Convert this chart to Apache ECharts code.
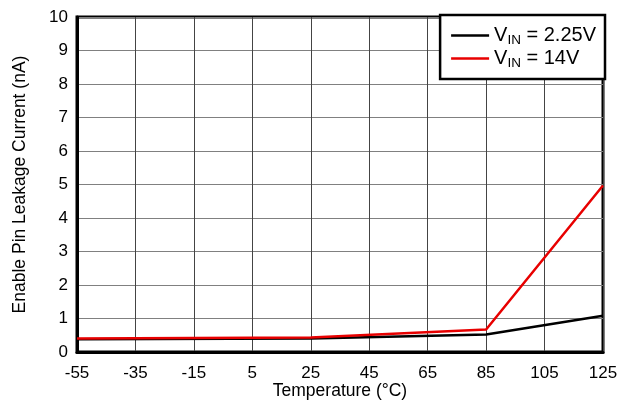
<!DOCTYPE html>
<html><head><meta charset="utf-8">
<script src="https://cdn.jsdelivr.net/npm/echarts@6/dist/echarts.min.js"></script>
<style>html,body{margin:0;padding:0;background:#fff}#c{width:631px;height:402px}</style>
</head><body><div id="c"></div>
<script>
var temps = [-55, -35, -15, 5, 25, 45, 65, 85, 105, 125];
var tempsBlack = [-55, 25, 85, 125];
var black225 = [0.38, 0.40, 0.52, 1.08];
var tempsRed = [-55, 25, 85, 125];
var red14 = [0.40, 0.43, 0.67, 4.97];
var xMin = -55, xMax = 125, xStep = 20;
var yTicks = [0,1,2,3,4,5,6,7,8,9,10];

function pairs(xs, ys){ return xs.map(function(x,i){ return [x - xMin, ys[i]]; }); }
var font = 'Liberation Sans, Arial, sans-serif';
var chart = echarts.init(document.getElementById('c'));
chart.setOption({
  animation: false,
  backgroundColor: '#fff',
  grid: {left: 77, right: 28, top: 17, bottom: 50, show: true, borderColor: '#000', borderWidth: 3, containLabel: false, outerBoundsMode: 'none'},
  legend: {
    right: 26, top: 15, orient: 'vertical', backgroundColor: '#fff', borderColor: '#000', borderWidth: 2.5,
    padding: [9, 9, 9, 11], itemGap: 0, itemWidth: 38, itemHeight: 20, icon: 'path://M0,0H38V2.5H0Z',
    textStyle: {fontFamily: font, fontSize: 20, color: '#000', lineHeight: 20,
      rich: {a: {fontFamily: font, fontSize: 20, color: '#000', lineHeight: 20}, b: {fontFamily: font, fontSize: 13.5, color: '#000', lineHeight: 20, padding: [9,0,0,0]}}},
    formatter: function(n){ return n === 'v1' ? '{a|V}{b|IN}{a| = 2.25V}' : '{a|V}{b|IN}{a| = 14V}'; },
    data: ['v1', 'v2']
  },
  xAxis: {
    type: 'value', min: 0, max: xMax - xMin, interval: xStep,
    name: 'Temperature (°C)', nameLocation: 'middle', nameGap: 30, nameMoveOverlap: false,
    nameTextStyle: {fontFamily: font, fontSize: 17.5, color: '#000'},
    axisLine: {lineStyle: {color: '#000', width: 3}},
    axisTick: {show: false},
    axisLabel: {fontFamily: font, fontSize: 17, color: '#000', margin: 13, formatter: function(v){ return String(v + xMin); }},
    splitLine: {show: true, lineStyle: {color: '#444', width: 1}}
  },
  yAxis: {
    type: 'value', min: yTicks[0], max: yTicks[yTicks.length-1], interval: 1,
    name: 'Enable Pin Leakage Current (nA)', nameLocation: 'middle', nameGap: 48, nameMoveOverlap: false,
    nameTextStyle: {fontFamily: font, fontSize: 17.5, color: '#000'},
    axisLine: {lineStyle: {color: '#000', width: 3}},
    axisTick: {show: false},
    axisLabel: {fontFamily: font, fontSize: 17, color: '#000', margin: 9},
    splitLine: {show: true, lineStyle: {color: '#808080', width: 1}}
  },
  series: [
    {name: 'v1', type: 'line', data: pairs(tempsBlack, black225), showSymbol: false, lineStyle: {color: '#000', width: 2.5}, itemStyle: {color: '#000'}},
    {name: 'v2', type: 'line', data: pairs(tempsRed, red14), showSymbol: false, lineStyle: {color: '#e80000', width: 2.5}, itemStyle: {color: '#e80000'}}
  ]
});
</script></body></html>
